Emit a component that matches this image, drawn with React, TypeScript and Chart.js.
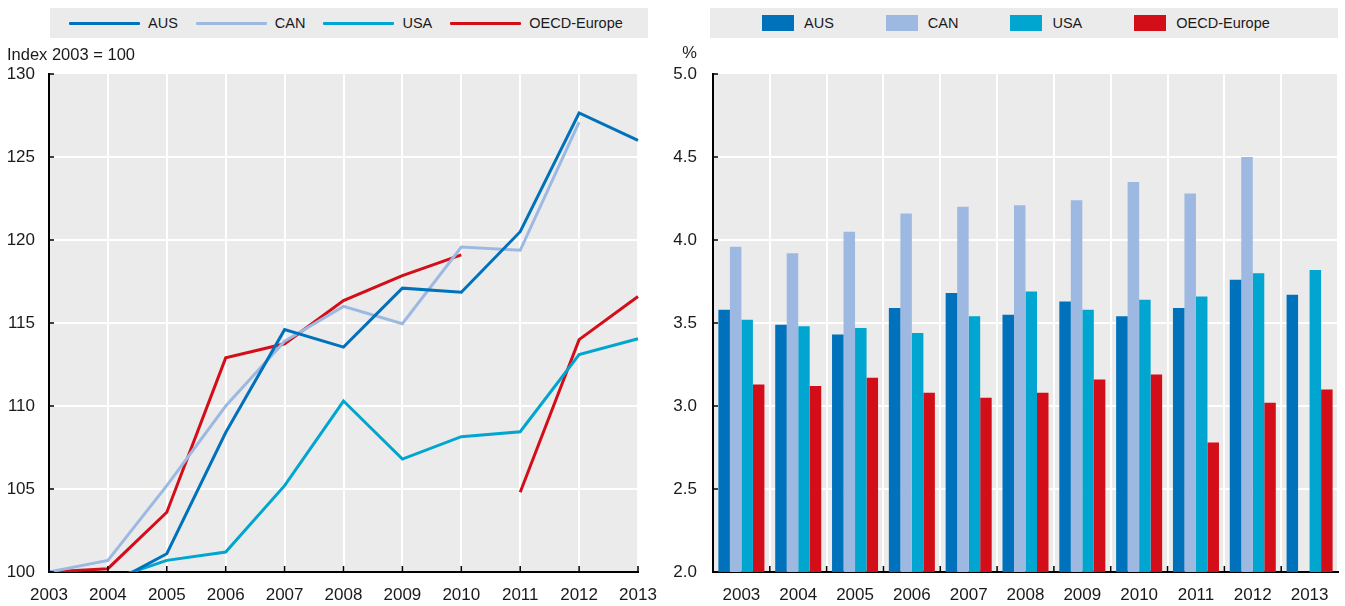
import React, { useEffect, useRef } from "react";
import { Chart, registerables } from "chart.js";

Chart.register(...registerables);

const years = ["2003", "2004", "2005", "2006", "2007", "2008", "2009", "2010", "2011", "2012", "2013"];

// Left panel: index 2003 = 100
const ausIndex = [100, 99.2, 101.1, 108.4, 114.6, 113.55, 117.1, 116.85, 120.5, 127.65, 126.0];
const canIndex = [100, 100.7, 105.2, 110.0, 113.9, 116.0, 114.96, 119.58, 119.38, 127.1, null];
const usaIndex = [100, 99.5, 100.7, 101.2, 105.2, 110.3, 106.8, 108.15, 108.45, 113.1, 114.05];
const euIndex = [100, 100.2, 103.6, 112.9, 113.75, 116.35, 117.85, 119.1, 104.8, 114.0, 116.6];
const euBreakAfter = 7; // series break between 2010 and 2011

// Right panel: percent
const ausPct = [3.58, 3.49, 3.43, 3.59, 3.68, 3.55, 3.63, 3.54, 3.59, 3.76, 3.67];
const canPct = [3.96, 3.92, 4.05, 4.16, 4.2, 4.21, 4.24, 4.35, 4.28, 4.5, null];
const usaPct = [3.52, 3.48, 3.47, 3.44, 3.54, 3.69, 3.58, 3.64, 3.66, 3.8, 3.82];
const euPct = [3.13, 3.12, 3.17, 3.08, 3.05, 3.08, 3.16, 3.19, 2.78, 3.02, 3.1];

const seriesNames = ["AUS", "CAN", "USA", "OECD-Europe"];
const seriesColors = ["#0072bc", "#9db9e2", "#00a6cf", "#d40e18"];

const FONT = "'Liberation Sans', Arial, sans-serif";
const TEXT = "#1a1a1a";
const PLOT_BG = "#ebebeb";
const TICK_SIZE = 17;

const bgPlugin = {
  id: "plotBg",
  beforeDraw(chart: any) {
    const { ctx, chartArea } = chart;
    ctx.save();
    ctx.fillStyle = PLOT_BG;
    ctx.fillRect(chartArea.left, chartArea.top, chartArea.right - chartArea.left, chartArea.bottom - chartArea.top);
    ctx.restore();
  },
};

const innerTicksPlugin = {
  id: "innerTicks",
  afterDatasetsDraw(chart: any, _args: any, opts: any) {
    const { ctx } = chart;
    const y = chart.scales.y;
    const x = chart.scales.x;
    ctx.save();
    ctx.strokeStyle = "#000";
    ctx.lineWidth = 1.5;
    ctx.beginPath();
    y.ticks.forEach((_t: any, i: number) => {
      const py = y.getPixelForTick(i);
      ctx.moveTo(y.right, py);
      ctx.lineTo(y.right + 5, py);
    });
    if (opts.between) {
      const n = x.ticks.length;
      for (let i = 1; i < n; i++) {
        const px = (x.getPixelForTick(i - 1) + x.getPixelForTick(i)) / 2;
        ctx.moveTo(px, x.top);
        ctx.lineTo(px, x.top - 6);
      }
    } else {
      x.ticks.forEach((_t: any, i: number) => {
        const px = x.getPixelForTick(i);
        ctx.moveTo(px, x.top);
        ctx.lineTo(px, x.top - 6);
      });
    }
    ctx.stroke();
    ctx.restore();
  },
};

const unitLabelPlugin = {
  id: "unitLabel",
  afterDraw(chart: any, _args: any, opts: any) {
    if (!opts.text) return;
    const { ctx } = chart;
    ctx.save();
    ctx.font = `${opts.size}px ${FONT}`;
    ctx.fillStyle = TEXT;
    ctx.textAlign = opts.align || "left";
    ctx.textBaseline = "middle";
    ctx.fillText(opts.text, opts.x, opts.y);
    ctx.restore();
  },
};

function LineChart() {
  const ref = useRef<HTMLCanvasElement>(null);
  useEffect(() => {
    const values = [ausIndex, canIndex, usaIndex, euIndex];
    const chart = new Chart(ref.current!, {
      type: "line",
      data: {
        labels: years,
        datasets: values.map((v, i) => ({
          label: seriesNames[i],
          data: v,
          borderColor: seriesColors[i],
          backgroundColor: seriesColors[i],
          borderWidth: 3,
          pointRadius: 0,
          tension: 0,
          spanGaps: false,
          segment:
            i === 3
              ? { borderColor: (ctx: any) => (ctx.p0DataIndex === euBreakAfter ? "rgba(0,0,0,0)" : seriesColors[3]) }
              : undefined,
        })),
      },
      options: {
        animation: false,
        responsive: false,
        maintainAspectRatio: false,
        layout: { padding: { top: 34, right: 33, left: 0, bottom: 0 } },
        plugins: {
          legend: { display: false },
          tooltip: { enabled: false },
          unitLabel: { text: "Index 2003 = 100", x: 7, y: 15, size: 16.5, align: "left" },
          innerTicks: { between: false },
        } as any,
        scales: {
          x: {
            type: "category",
            offset: false,
            grid: { color: "#ffffff", lineWidth: 2, drawTicks: false },
            border: { color: "#000", width: 2 },
            ticks: { color: TEXT, font: { family: FONT, size: TICK_SIZE }, padding: 13, maxRotation: 0, autoSkip: false },
            afterFit: (s: any) => { s.height = 34; },
          },
          y: {
            min: 100,
            max: 130,
            grid: { color: (c: any) => (c.tick && c.tick.value === 130 ? "rgba(0,0,0,0)" : "#ffffff"), lineWidth: 2, drawTicks: false },
            border: { color: "#000", width: 2 },
            ticks: { stepSize: 5, color: TEXT, font: { family: FONT, size: TICK_SIZE }, padding: 14 },
            afterFit: (s: any) => { s.width = 49; },
          },
        },
      },
      plugins: [bgPlugin, innerTicksPlugin, unitLabelPlugin],
    });
    return () => chart.destroy();
  }, []);
  return <canvas ref={ref} width={671} height={566} style={{ position: "absolute", left: 0, top: 40, width: 671, height: 566 }} />;
}

function BarChart() {
  const ref = useRef<HTMLCanvasElement>(null);
  useEffect(() => {
    const values = [ausPct, canPct, usaPct, euPct];
    const chart = new Chart(ref.current!, {
      type: "bar",
      data: {
        labels: years,
        datasets: values.map((v, i) => ({
          label: seriesNames[i],
          data: v,
          backgroundColor: seriesColors[i],
          borderWidth: 0,
          categoryPercentage: 0.81,
          barPercentage: 1.0,
        })),
      },
      options: {
        animation: false,
        responsive: false,
        maintainAspectRatio: false,
        layout: { padding: { top: 34, right: 7, left: 0, bottom: 0 } },
        plugins: {
          legend: { display: false },
          tooltip: { enabled: false },
          unitLabel: { text: "%", x: 27, y: 13, size: 16.5, align: "right" },
          innerTicks: { between: true },
        } as any,
        scales: {
          x: {
            grid: { color: "#ffffff", lineWidth: 2, drawTicks: false, offset: true },
            border: { color: "#000", width: 2 },
            ticks: { color: TEXT, font: { family: FONT, size: TICK_SIZE }, padding: 13, maxRotation: 0, autoSkip: false },
            afterFit: (s: any) => { s.height = 34; },
          },
          y: {
            min: 2,
            max: 5,
            grid: { color: (c: any) => (c.tick && c.tick.value === 5 ? "rgba(0,0,0,0)" : "#ffffff"), lineWidth: 2, drawTicks: false },
            border: { color: "#000", width: 2 },
            ticks: {
              stepSize: 0.5,
              color: TEXT,
              font: { family: FONT, size: TICK_SIZE },
              padding: 16,
              callback: (v: any) => Number(v).toFixed(1),
            },
            afterFit: (s: any) => { s.width = 43; },
          },
        },
      },
      plugins: [bgPlugin, innerTicksPlugin, unitLabelPlugin],
    });
    return () => chart.destroy();
  }, []);
  return <canvas ref={ref} width={675} height={566} style={{ position: "absolute", left: 670, top: 40, width: 675, height: 566 }} />;
}

function Legend({ kind, left, width, padLeft, gap, itemGap }: { kind: "line" | "box"; left: number; width: number; padLeft: number; gap: number; itemGap: number }) {
  return (
    <div
      style={{
        position: "absolute",
        left,
        top: 8,
        width,
        height: 30,
        background: PLOT_BG,
        display: "flex",
        alignItems: "center",
        paddingLeft: padLeft,
        boxSizing: "border-box",
        fontFamily: FONT,
        fontSize: 14.5,
        color: TEXT,
        whiteSpace: "nowrap",
      }}
    >
      {seriesNames.map((name, i) => (
        <div key={name} style={{ display: "flex", alignItems: "center", marginRight: itemGap }}>
          {kind === "line" ? (
            <span style={{ display: "inline-block", width: 71, height: 3, background: seriesColors[i], borderRadius: 1 }} />
          ) : (
            <span style={{ display: "inline-block", width: 32, height: 16, background: seriesColors[i] }} />
          )}
          <span style={{ marginLeft: gap }}>{name}</span>
        </div>
      ))}
    </div>
  );
}

export default function App() {
  return (
    <div style={{ position: "absolute", left: 0, top: 0, width: 1345, height: 606, background: "#fff", overflow: "hidden" }}>
      <Legend kind="line" left={50} width={598} padLeft={19} gap={8} itemGap={18} />
      <Legend kind="box" left={710} width={628} padLeft={52} gap={10} itemGap={52} />
      <LineChart />
      <BarChart />
    </div>
  );
}
